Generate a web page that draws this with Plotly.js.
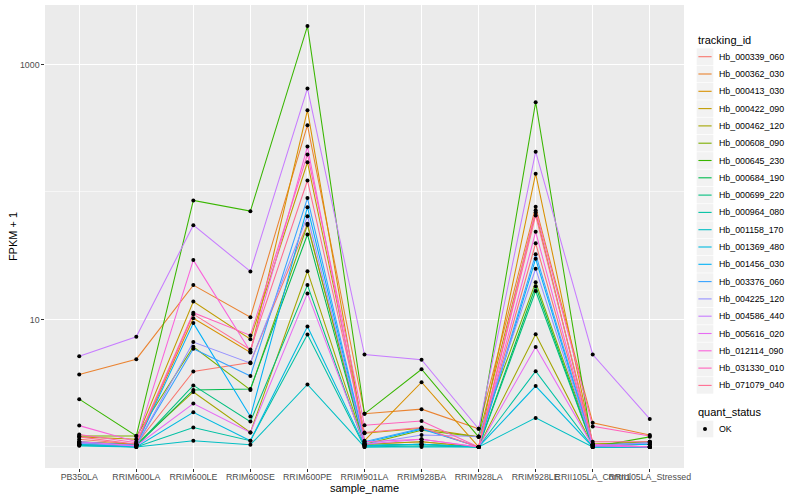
<!DOCTYPE html>
<html>
<head>
<meta charset="utf-8">
<script src="https://cdn.plot.ly/plotly-3.0.1.min.js"></script>
<style>html,body{margin:0;padding:0;background:#fff;}#chart{width:800px;height:500px;}</style>
</head>
<body>
<div id="chart"></div>
<script>
// ---- data ----
const samples = ["PB350LA","RRIM600LA","RRIM600LE","RRIM600SE","RRIM600PE","RRIM901LA","RRIM928BA","RRIM928LA","RRIM928LE","RRII105LA_Control","RRII105LA_Stressed"];
const trackingIds = ["Hb_000339_060","Hb_000362_030","Hb_000413_030","Hb_000422_090","Hb_000462_120","Hb_000608_090","Hb_000645_230","Hb_000684_190","Hb_000699_220","Hb_000964_080","Hb_001158_170","Hb_001369_480","Hb_001456_030","Hb_003376_060","Hb_004225_120","Hb_004586_440","Hb_005616_020","Hb_012114_090","Hb_031330_010","Hb_071079_040"];
const seriesColors = ["#F8766D","#EA8331","#D89000","#C09B00","#A3A500","#7CAE00","#39B600","#00BB4E","#00BF7D","#00C1A3","#00BFC4","#00BAE0","#00B0F6","#35A2FF","#9590FF","#C77CFF","#E76BF3","#FA62DB","#FF62BC","#FF6C91"];
const hb_000339_060 = [1.15, 1.05, 3.91, 4.6, 56.3, 1.05, 1.1, 1.0, 39.6, 1.05, 1.0];
const hb_000362_030 = [3.70, 4.88, 18.6, 10.4, 334, 1.82, 1.98, 1.39, 76.5, 1.55, 1.24];
const hb_000413_030 = [1.1, 1.05, 10.2, 5.5, 438, 1.12, 3.22, 1.0, 139, 1.05, 1.05];
const hb_000422_090 = [1.2, 1.15, 13.8, 7.0, 171, 1.28, 1.4, 1.2, 69, 1.05, 1.1];
const hb_000462_120 = [1.08, 1.05, 2.7, 1.3, 23.9, 1.05, 1.1, 1.0, 7.67, 1.02, 1.0];
const hb_000608_090 = [1.22, 1.22, 6.1, 2.8, 55, 1.05, 1.35, 1.2, 19.6, 1.05, 1.1];
const hb_000645_230 = [2.37, 1.22, 85.8, 70.7, 2000, 1.82, 4.07, 1.2, 506, 1.0, 1.2];
const hb_000684_190 = [1.05, 1.02, 2.8, 2.85, 46.4, 1.03, 1.05, 1.0, 18.2, 1.0, 1.0];
const hb_000699_220 = [1.05, 1.02, 3.04, 1.58, 18.6, 1.02, 1.05, 1.0, 16.7, 1.0, 1.0];
const hb_000964_080 = [1.03, 1.0, 1.42, 1.12, 7.63, 1.0, 1.02, 1.0, 3.93, 1.0, 1.0];
const hb_001158_170 = [1.02, 1.0, 1.12, 1.04, 3.09, 1.0, 1.0, 1.0, 1.69, 1.0, 1.0];
const hb_001369_480 = [1.05, 1.0, 1.87, 1.12, 8.81, 1.02, 1.05, 1.0, 3.0, 1.0, 1.0];
const hb_001456_030 = [1.08, 1.03, 9.36, 1.73, 76, 1.08, 1.38, 1.0, 29.9, 1.02, 1.05];
const hb_003376_060 = [1.1, 1.03, 5.9, 3.6, 89.5, 1.1, 1.4, 1.0, 32.5, 1.03, 1.08];
const hb_004225_120 = [1.07, 1.02, 6.64, 4.54, 64.6, 1.05, 1.24, 1.21, 25, 1.02, 1.08];
const hb_004586_440 = [5.15, 7.31, 54.9, 23.8, 648, 5.31, 4.83, 1.39, 207, 5.31, 1.66];
const hb_005616_020 = [1.1, 1.02, 2.19, 1.3, 16.0, 1.05, 1.15, 1.0, 6.07, 1.02, 1.0];
const hb_012114_090 = [1.47, 1.1, 29.2, 5.6, 227, 1.1, 1.15, 1.0, 48.7, 1.05, 1.0];
const hb_031330_010 = [1.25, 1.08, 11.3, 7.5, 197, 1.48, 1.6, 1.0, 72, 1.45, 1.22];
const hb_071079_040 = [1.2, 1.05, 11.0, 5.8, 123, 1.3, 1.42, 1.0, 65.4, 1.1, 1.1];
const seriesValues = [hb_000339_060, hb_000362_030, hb_000413_030, hb_000422_090, hb_000462_120, hb_000608_090, hb_000645_230, hb_000684_190, hb_000699_220, hb_000964_080, hb_001158_170, hb_001369_480, hb_001456_030, hb_003376_060, hb_004225_120, hb_004586_440, hb_005616_020, hb_012114_090, hb_031330_010, hb_071079_040];
const yTickVals = [10, 1000];
const yMinorVals = [1, 100];
const quantStatus = ["OK"];

// ---- build ----
const FONT = "Liberation Sans, Arial, Helvetica, sans-serif";
const traces = [];
seriesValues.forEach((vals, i) => {
  traces.push({type: "scatter", mode: "lines", x: samples, y: vals, name: trackingIds[i],
    line: {color: seriesColors[i], width: 1.05}, showlegend: false, hoverinfo: "skip"});
});
seriesValues.forEach((vals, i) => {
  traces.push({type: "scatter", mode: "markers", x: samples, y: vals, name: trackingIds[i],
    marker: {color: "#000000", size: 4, symbol: "circle"}, showlegend: false});
});

let all = [].concat(...seriesValues);
const lo = Math.log10(Math.min(...all)), hi = Math.log10(Math.max(...all));
const pad = 0.05 * (hi - lo);

// panel geometry in pixels (for legend placement)
const W = 800, H = 500, mL = 45, mR = 116, mT = 5, mB = 32;
const pw = W - mL - mR, ph = H - mT - mB;
const px = x => (x - mL) / pw;
const py = y => (H - mB - y) / ph;

const shapes = [], annotations = [];
annotations.push({xref: "paper", yref: "paper", x: px(696), y: py(40.5), text: "tracking_id", showarrow: false,
  xanchor: "left", yanchor: "middle", font: {family: FONT, size: 11, color: "#000"}});
const step = 17.3, y0 = 56.7;
trackingIds.forEach((id, i) => {
  const cy = y0 + i * step;
  shapes.push({type: "rect", xref: "paper", yref: "paper", x0: px(696.7), x1: px(713.3), y0: py(cy - 8.3), y1: py(cy + 8.3),
    fillcolor: "#F2F2F2", line: {width: 0}});
  shapes.push({type: "line", xref: "paper", yref: "paper", x0: px(698.4), x1: px(711.6), y0: py(cy), y1: py(cy),
    line: {color: seriesColors[i], width: 1.1}});
  annotations.push({xref: "paper", yref: "paper", x: px(716.5), y: py(cy), text: id, showarrow: false,
    xanchor: "left", yanchor: "middle", font: {family: FONT, size: 8.8, color: "#000"}});
});
annotations.push({xref: "paper", yref: "paper", x: px(696), y: py(412.3), text: "quant_status", showarrow: false,
  xanchor: "left", yanchor: "middle", font: {family: FONT, size: 11, color: "#000"}});
quantStatus.forEach((q, i) => {
  const cy = 429 + i * step;
  shapes.push({type: "rect", xref: "paper", yref: "paper", x0: px(696.7), x1: px(713.3), y0: py(cy - 8.3), y1: py(cy + 8.3),
    fillcolor: "#F2F2F2", line: {width: 0}});
  shapes.push({type: "circle", xref: "paper", yref: "paper", x0: px(703), x1: px(707), y0: py(cy + 2), y1: py(cy - 2),
    fillcolor: "#000", line: {width: 0}});
  annotations.push({xref: "paper", yref: "paper", x: px(716.5), y: py(cy), text: q, showarrow: false,
    xanchor: "left", yanchor: "middle", font: {family: FONT, size: 8.8, color: "#000"}});
});

const layout = {
  width: W, height: H,
  margin: {l: mL, r: mR, t: mT, b: mB, pad: 0},
  paper_bgcolor: "#FFFFFF", plot_bgcolor: "#EBEBEB",
  font: {family: FONT, color: "#000"},
  showlegend: false,
  xaxis: {type: "category", categoryorder: "array", categoryarray: samples,
    range: [-0.6, samples.length - 1 + 0.6], tickangle: 0,
    showgrid: true, gridcolor: "#FFFFFF", gridwidth: 1.07, zeroline: false, showline: false,
    ticks: "outside", ticklen: 2.7, tickwidth: 1.07, tickcolor: "#333333", ticklabelstandoff: -2,
    tickfont: {family: FONT, size: 8.8, color: "#4D4D4D"}, automargin: false,
    title: {text: "sample_name", font: {family: FONT, size: 11, color: "#000"}, standoff: 2}},
  yaxis: {type: "log", range: [lo - pad, hi + pad],
    tickmode: "array", tickvals: yTickVals, ticktext: yTickVals.map(String),
    showgrid: true, gridcolor: "#FFFFFF", gridwidth: 1.07, zeroline: false, showline: false,
    ticks: "outside", ticklen: 2.7, tickwidth: 1.07, tickcolor: "#333333",
    tickfont: {family: FONT, size: 8.8, color: "#4D4D4D"}, automargin: false,
    minor: {tickmode: "array", tickvals: yMinorVals, showgrid: true, gridcolor: "#FFFFFF", gridwidth: 0.53, ticks: ""},
    title: {text: "FPKM + 1", font: {family: FONT, size: 11, color: "#000"}, standoff: 0}},
  shapes: shapes, annotations: annotations
};

Plotly.newPlot("chart", traces, layout, {staticPlot: true, displayModeBar: false});
</script>
</body>
</html>
